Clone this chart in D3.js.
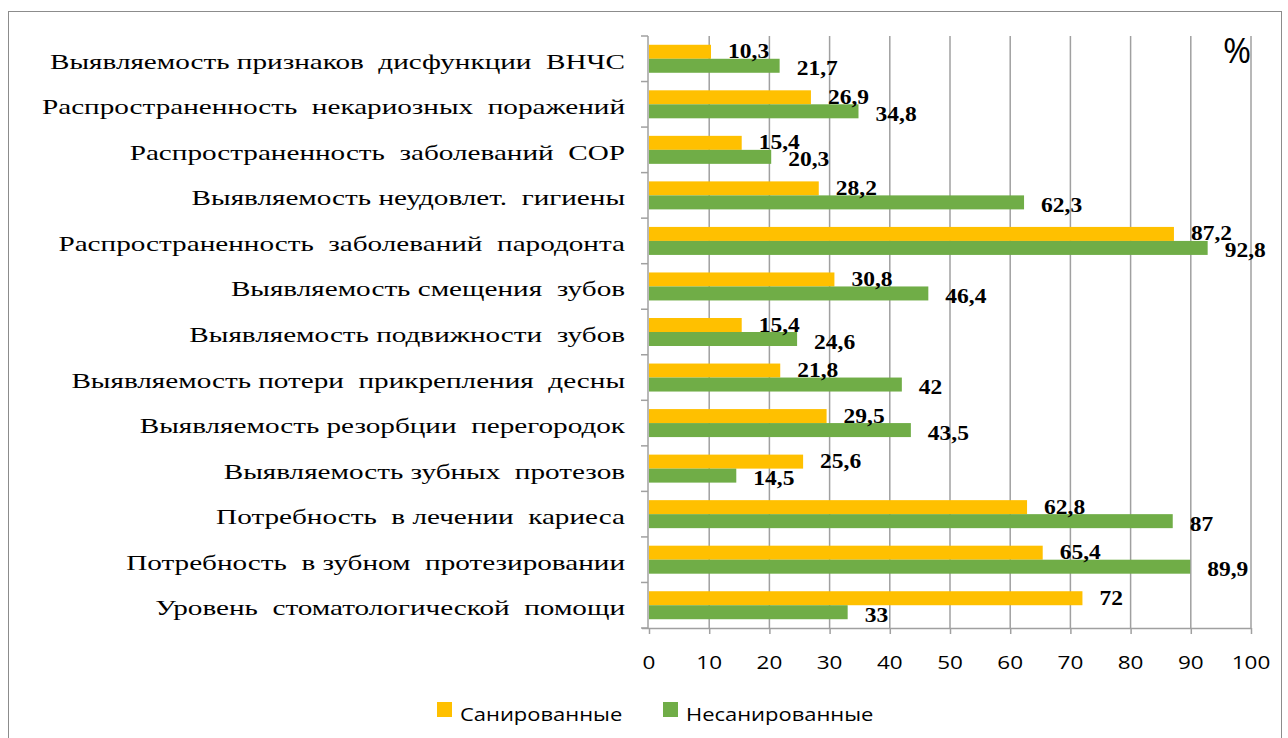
<!DOCTYPE html>
<html>
<head>
<meta charset="utf-8">
<script src="https://cdn.jsdelivr.net/npm/d3@7"></script>
<style>
  html, body { margin: 0; padding: 0; background: #fff; }
  svg { display: block; }
  text { white-space: pre; }
</style>
</head>
<body>
<svg id="chart" width="1288" height="738"></svg>
<script>
const categories = [
  "Выявляемость признаков  дисфункции  ВНЧС",
  "Распространенность  некариозных  поражений",
  "Распространенность  заболеваний  СОР",
  "Выявляемость неудовлет.  гигиены",
  "Распространенность  заболеваний  пародонта",
  "Выявляемость смещения  зубов",
  "Выявляемость подвижности  зубов",
  "Выявляемость потери  прикрепления  десны",
  "Выявляемость резорбции  перегородок",
  "Выявляемость зубных  протезов",
  "Потребность  в лечении  кариеса",
  "Потребность  в зубном  протезировании",
  "Уровень  стоматологической  помощи"
];
const sanitized   = [10.3, 26.9, 15.4, 28.2, 87.2, 30.8, 15.4, 21.8, 29.5, 25.6, 62.8, 65.4, 72];
const unsanitized = [21.7, 34.8, 20.3, 62.3, 92.8, 46.4, 24.6, 42, 43.5, 14.5, 87, 89.9, 33];
const xTicks = [0, 10, 20, 30, 40, 50, 60, 70, 80, 90, 100];
const seriesNames = ["Санированные", "Несанированные"];
const unitLabel = "%";

const colors = ["#FFC000", "#70AD47"];
const gridColor = "#A0A0A0";

// horizontal text stretch factors (reference chart is stretched horizontally)
const sxCat = 1.39, sxVal = 1.12, sxTick = 1.25, sxLeg = 1.22;

const svg = d3.select("#chart");

// outer frame
svg.append("rect")
  .attr("x", 8.5).attr("y", 11.5).attr("width", 1273).attr("height", 740)
  .attr("fill", "none").attr("stroke", "#8C8C8C").attr("stroke-width", 1);

const x = d3.scaleLinear().domain([0, 100]).range([649, 1251]);
const pIn = 1 - 28 / (592 / 13);
const y = d3.scaleBand().domain(categories).range([36, 628])
  .paddingInner(pIn).paddingOuter(pIn / 2);
const ySub = d3.scaleBand().domain([0, 1]).range([0, y.bandwidth()]);

const series = [sanitized, unsanitized];

// gridlines
svg.append("g").selectAll("line").data(xTicks.filter(t => t > 0)).join("line")
  .attr("x1", d => x(d)).attr("x2", d => x(d))
  .attr("y1", 36).attr("y2", 628)
  .attr("stroke", gridColor).attr("stroke-width", 1.5);

// bottom axis
const xAxis = d3.axisBottom(x).tickValues(xTicks).tickSize(6).tickFormat("");
const gx = svg.append("g").attr("transform", "translate(0,628)").call(xAxis);
gx.select(".domain").attr("stroke", gridColor).attr("stroke-width", 1.5).attr("d", `M${x(0)-7},0.5H${x(100)}`);
gx.selectAll(".tick line").attr("stroke", gridColor).attr("stroke-width", 1.5);

// tick labels
svg.append("g").selectAll("g").data(xTicks).join("g")
  .attr("transform", d => `translate(${x(d)},669) scale(${sxTick},1)`)
  .append("text")
  .attr("text-anchor", "middle")
  .attr("font-family", "'Open Sans', sans-serif")
  .attr("font-size", 18)
  .attr("fill", "#000")
  .text(d => d);

// left axis line + tick marks at band boundaries
const step = y.step();
const boundaries = d3.range(categories.length + 1).map(i => 36 + i * step);
svg.append("line")
  .attr("x1", x(0) - 1).attr("x2", x(0) - 1).attr("y1", 36).attr("y2", 628)
  .attr("stroke", gridColor).attr("stroke-width", 1.5);
svg.append("g").selectAll("line").data(boundaries).join("line")
  .attr("x1", x(0) - 8).attr("x2", x(0) - 1)
  .attr("y1", d => d).attr("y2", d => d)
  .attr("stroke", gridColor).attr("stroke-width", 1.5);

// bars
series.forEach((vals, si) => {
  svg.append("g").selectAll("rect").data(vals).join("rect")
    .attr("x", x(0))
    .attr("y", (d, i) => y(categories[i]) + ySub(si))
    .attr("width", d => x(d) - x(0))
    .attr("height", ySub.bandwidth())
    .attr("fill", colors[si]);
});

// value labels
const labelShift = [-1, 2];
series.forEach((vals, si) => {
  svg.append("g").selectAll("g").data(vals).join("g")
    .attr("transform", (d, i) => `translate(${x(d) + 17},${y(categories[i]) + ySub(si) + ySub.bandwidth() / 2 + labelShift[si] + 7.5}) scale(${sxVal},1)`)
    .append("text")
    .attr("font-family", "'Liberation Serif', 'Times New Roman', serif")
    .attr("font-weight", "bold")
    .attr("font-size", 21)
    .attr("fill", "#000")
    .text(d => String(d).replace(".", ","));
});

// category labels
svg.append("g").selectAll("g").data(categories).join("g")
  .attr("transform", d => `translate(625,${y(d) + y.bandwidth() / 2 + 10}) scale(${sxCat},1)`)
  .append("text")
  .attr("text-anchor", "end")
  .attr("font-family", "'Liberation Serif', 'Times New Roman', serif")
  .attr("font-size", 21)
  .attr("fill", "#000")
  .text(d => d);

// percent sign
svg.append("text")
  .attr("x", 1237).attr("y", 63)
  .attr("text-anchor", "middle")
  .attr("font-family", "'Open Sans', sans-serif")
  .attr("font-size", 34)
  .attr("fill", "#000")
  .text(unitLabel);

// legend
const legX = [437, 663];
const leg = svg.append("g").selectAll("g").data(seriesNames).join("g")
  .attr("transform", (d, i) => `translate(${legX[i]},702)`);
leg.append("rect").attr("width", 15).attr("height", 15).attr("fill", (d, i) => colors[i]);
leg.append("g").attr("transform", `translate(23,19) scale(${sxLeg},1)`)
  .append("text")
  .attr("font-family", "'Open Sans', sans-serif")
  .attr("font-size", 18)
  .attr("fill", "#000")
  .text(d => d);
</script>
</body>
</html>
